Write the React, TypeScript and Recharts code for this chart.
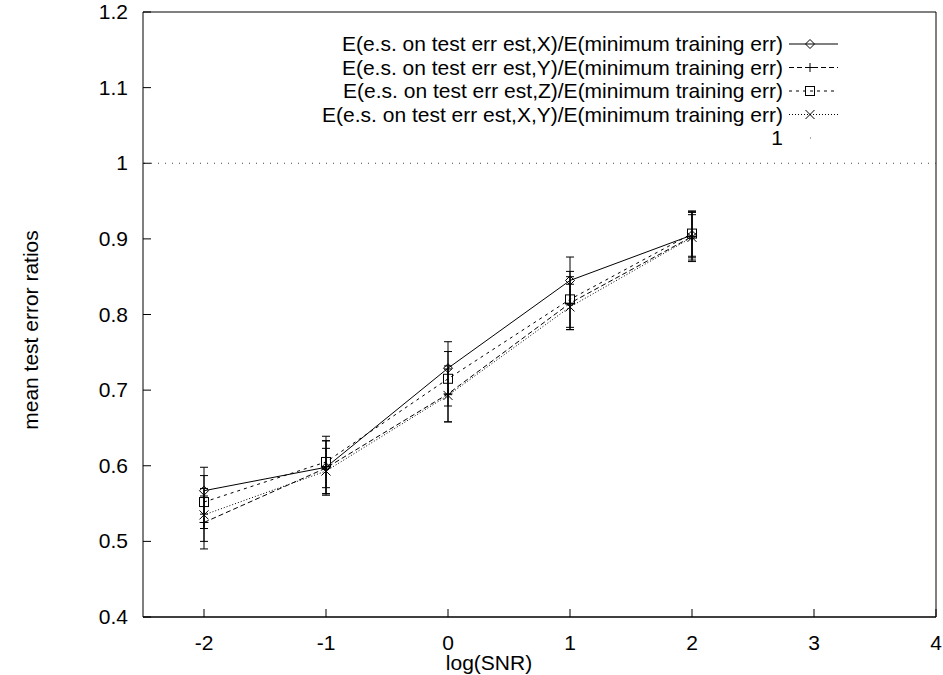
import {
  ComposedChart, Line, XAxis, YAxis, ErrorBar, ReferenceLine, ReferenceArea, Legend, Label,
} from 'recharts'

const W = 943
const H = 675
// plot frame edges in page pixels
const PLOT = { left: 143, top: 12, right: 936, bottom: 617 }
const TICK_LEN = 8
const FONT = '"Liberation Sans", Arial, Helvetica, sans-serif'
const FONT_SIZE = 21

const logSnr = [-2, -1, 0, 1, 2]

const ratioX = [0.567, 0.598, 0.729, 0.845, 0.905]
const errX = [0.031, 0.035, 0.035, 0.031, 0.03]
const ratioY = [0.525, 0.597, 0.695, 0.815, 0.903]
const errY = [0.035, 0.036, 0.037, 0.035, 0.033]
const ratioZ = [0.552, 0.605, 0.715, 0.82, 0.907]
const errZ = [0.035, 0.034, 0.036, 0.037, 0.03]
const ratioXY = [0.535, 0.593, 0.693, 0.81, 0.902]
const errXY = [0.035, 0.03, 0.035, 0.03, 0.03]

const xTicks = [-2, -1, 0, 1, 2, 3, 4]
const yTicks = [0.4, 0.5, 0.6, 0.7, 0.8, 0.9, 1, 1.1, 1.2]

type Marker = 'diamond' | 'plus' | 'square' | 'cross'

const SERIES: { key: string; err: string; label: string; dash?: string; marker: Marker }[] = [
  { key: 'X', err: 'eX', label: 'E(e.s. on test err est,X)/E(minimum training err)', marker: 'diamond' },
  { key: 'Y', err: 'eY', label: 'E(e.s. on test err est,Y)/E(minimum training err)', dash: '5 3', marker: 'plus' },
  { key: 'Z', err: 'eZ', label: 'E(e.s. on test err est,Z)/E(minimum training err)', dash: '3 4', marker: 'square' },
  { key: 'XY', err: 'eXY', label: 'E(e.s. on test err est,X,Y)/E(minimum training err)', dash: '1 2', marker: 'cross' },
]

const data = logSnr.map((x, i) => ({
  x,
  X: ratioX[i], eX: errX[i],
  Y: ratioY[i], eY: errY[i],
  Z: ratioZ[i], eZ: errZ[i],
  XY: ratioXY[i], eXY: errXY[i],
}))

function MarkerShape({ kind, cx, cy }: { kind: Marker; cx: number; cy: number }) {
  const r = 4.5
  const common = { stroke: '#000', strokeWidth: 1, fill: 'none' }
  if (kind === 'diamond') {
    return <path d={`M${cx},${cy - r}L${cx + r},${cy}L${cx},${cy + r}L${cx - r},${cy}Z`} {...common} />
  }
  if (kind === 'square') {
    return <rect x={cx - r} y={cy - r} width={r * 2} height={r * 2} {...common} />
  }
  if (kind === 'plus') {
    return <path d={`M${cx - r},${cy}H${cx + r}M${cx},${cy - r}V${cy + r}`} {...common} />
  }
  return <path d={`M${cx - r},${cy - r}L${cx + r},${cy + r}M${cx - r},${cy + r}L${cx + r},${cy - r}`} {...common} />
}

const makeDot = (kind: Marker) => (props: any) => (
  <g key={`${kind}-${props.index}`}>
    <MarkerShape kind={kind} cx={props.cx} cy={props.cy} />
  </g>
)

const BottomTick = ({ x, payload }: any) => (
  <g>
    <line x1={x} x2={x} y1={PLOT.bottom} y2={PLOT.bottom - TICK_LEN} stroke="#000" />
    <text x={x} y={PLOT.bottom + 33} textAnchor="middle" fontFamily={FONT} fontSize={FONT_SIZE} fill="#000">
      {payload.value}
    </text>
  </g>
)

const TopTick = ({ x }: any) => (
  <line x1={x} x2={x} y1={PLOT.top} y2={PLOT.top + TICK_LEN} stroke="#000" />
)

const LeftTick = ({ y, payload }: any) => (
  <g>
    <line x1={PLOT.left} x2={PLOT.left + TICK_LEN} y1={y} y2={y} stroke="#000" />
    <text x={PLOT.left - 15} y={y + 7} textAnchor="end" fontFamily={FONT} fontSize={FONT_SIZE} fill="#000">
      {payload.value}
    </text>
  </g>
)

const RightTick = ({ y }: any) => (
  <line x1={PLOT.right} x2={PLOT.right - TICK_LEN} y1={y} y2={y} stroke="#000" />
)

// gnuplot-style key: right-aligned titles with a line sample after each
function KeyBox() {
  const textRight = 783
  const sampleX1 = 789
  const sampleX2 = 838
  const markX = 810
  const rowY = (i: number) => 44 + i * 23.5
  return (
    <svg width={W} height={160} style={{ display: 'block' }}>
      {SERIES.map((s, i) => (
        <g key={s.key}>
          <text x={textRight} y={rowY(i) + 7} textAnchor="end" fontFamily={FONT} fontSize={FONT_SIZE} fill="#000">
            {s.label}
          </text>
          <line x1={sampleX1} x2={sampleX2} y1={rowY(i)} y2={rowY(i)} stroke="#000" strokeDasharray={s.dash} />
          <MarkerShape kind={s.marker} cx={markX} cy={rowY(i)} />
        </g>
      ))}
      <text x={textRight} y={rowY(4) + 7} textAnchor="end" fontFamily={FONT} fontSize={FONT_SIZE} fill="#000">1</text>
      <line x1={markX} x2={markX + 1} y1={rowY(4)} y2={rowY(4)} stroke="#555" />
    </svg>
  )
}

export default function App() {
  return (
    <div style={{ position: 'absolute', left: 0, top: 0, width: W, height: H, background: '#fff' }}>
      <ComposedChart
        width={W}
        height={H}
        data={data}
        margin={{ top: PLOT.top, right: W - PLOT.right, bottom: 0, left: 0 }}
      >
        <XAxis
          dataKey="x"
          type="number"
          domain={[-2.5, 4]}
          ticks={xTicks}
          interval={0}
          height={H - PLOT.bottom}
          tickLine={false}
          axisLine={{ stroke: '#000' }}
          tick={BottomTick}
          allowDataOverflow
        >
          <Label
            content={() => (
              <text x={489} y={670} textAnchor="middle" fontFamily={FONT} fontSize={FONT_SIZE} fill="#000">
                log(SNR)
              </text>
            )}
          />
        </XAxis>
        <XAxis
          xAxisId="top"
          dataKey="x"
          type="number"
          orientation="top"
          domain={[-2.5, 4]}
          ticks={xTicks}
          interval={0}
          height={0}
          tickLine={false}
          axisLine={false}
          tick={TopTick}
          allowDataOverflow
        />
        <YAxis
          type="number"
          domain={[0.4, 1.2]}
          ticks={yTicks}
          interval={0}
          width={PLOT.left}
          tickLine={false}
          axisLine={false}
          tick={LeftTick}
          allowDataOverflow
        >
          <Label
            content={() => (
              <text
                transform="translate(38,330) rotate(-90)"
                textAnchor="middle"
                fontFamily={FONT}
                fontSize={FONT_SIZE}
                fill="#000"
              >
                mean test error ratios
              </text>
            )}
          />
        </YAxis>
        <YAxis
          yAxisId="right"
          orientation="right"
          type="number"
          domain={[0.4, 1.2]}
          ticks={yTicks}
          interval={0}
          width={0}
          tickLine={false}
          axisLine={false}
          tick={RightTick}
          allowDataOverflow
        />
        {/* plot frame */}
        <ReferenceArea
          x1={-2.5}
          x2={4}
          y1={0.4}
          y2={1.2}
          fill="none"
          fillOpacity={0}
          stroke="#000"
          strokeWidth={1}
          ifOverflow="visible"
        />
        <ReferenceLine
          y={1}
          xAxisId="top"
          yAxisId="right"
          stroke="#444"
          strokeWidth={1}
          strokeDasharray="1 6"
        />
        {SERIES.map((s) => (
          <Line
            key={s.key}
            dataKey={s.key}
            stroke="#000"
            strokeWidth={1}
            strokeDasharray={s.dash}
            dot={makeDot(s.marker)}
            activeDot={false}
            isAnimationActive={false}
            legendType="none"
          >
            <ErrorBar dataKey={s.err} direction="y" width={4} stroke="#000" strokeWidth={1} isAnimationActive={false} />
          </Line>
        ))}
        <Legend
          layout="vertical"
          align="center"
          verticalAlign="middle"
          wrapperStyle={{ left: 0, top: 0, width: W, height: 160 }}
          content={() => <KeyBox />}
        />
      </ComposedChart>
    </div>
  )
}
